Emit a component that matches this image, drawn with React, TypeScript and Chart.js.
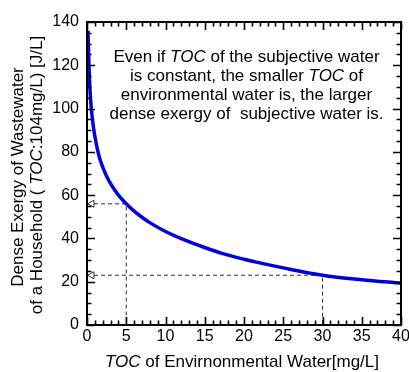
import React, { useEffect, useRef } from "react";
import { Chart, registerables } from "chart.js";

Chart.register(...registerables);

const toc = [0.12, 0.25, 0.4, 0.55, 0.8, 1, 1.5, 2, 2.5, 3, 4, 5, 6, 7, 8, 10, 12, 15, 17.3, 20, 22, 25, 30, 35, 40];
const exergy = [136, 120, 107.5, 100, 92, 87.2, 78.5, 73, 68.7, 65.3, 60, 56, 52.6, 49.8, 47.3, 43.2, 39.9, 35.8, 33, 30.4, 28.7, 26.4, 23, 20.9, 19.3];
const guideX = [5, 30];
const guideY = [56, 23];
const xTicks = { min: 0, max: 40, major: 5, minor: 1 };
const yTicks = { min: 0, max: 140, major: 20, minor: 5 };

type Seg = { t: string; i?: boolean };
const yTitle1: Seg[] = [{ t: "Dense Exergy of Wastewater" }];
const yTitle2: Seg[] = [{ t: "of a Household ( " }, { t: "TOC", i: true }, { t: ":104mg/L) [J/L]" }];
const xTitle: Seg[] = [{ t: "TOC", i: true }, { t: " of Envirnonmental Water[mg/L]" }];
const note: Seg[][] = [
  [{ t: "Even if " }, { t: "TOC", i: true }, { t: " of the subjective water" }],
  [{ t: "is constant, the smaller " }, { t: "TOC", i: true }, { t: " of" }],
  [{ t: "environmental water is, the larger" }],
  [{ t: "dense exergy of  subjective water is." }],
];

const FONT = "'Liberation Sans', Arial, sans-serif";

function drawSegs(ctx: CanvasRenderingContext2D, segs: Seg[], cx: number, cy: number, size: number) {
  const fonts = segs.map((s) => `${s.i ? "italic " : ""}${size}px ${FONT}`);
  let total = 0;
  const widths = segs.map((s, k) => {
    ctx.font = fonts[k];
    const w = ctx.measureText(s.t).width;
    total += w;
    return w;
  });
  let x = cx - total / 2;
  ctx.textBaseline = "middle";
  ctx.textAlign = "left";
  segs.forEach((s, k) => {
    ctx.font = fonts[k];
    ctx.fillText(s.t, x, cy);
    x += widths[k];
  });
}

const framePlugin = {
  id: "framePlugin",
  afterDatasetsDraw(chart: any) {
    const ctx: CanvasRenderingContext2D = chart.ctx;
    const xs = chart.scales.x;
    const ys = chart.scales.y;
    const { left, right, top, bottom } = chart.chartArea;
    ctx.save();
    // guide arrows
    ctx.strokeStyle = "#333";
    ctx.fillStyle = "#fff";
    ctx.lineWidth = 1;
    guideY.forEach((v) => {
      const px = xs.getPixelForValue(0);
      const py = ys.getPixelForValue(v);
      ctx.beginPath();
      ctx.moveTo(px + 0.5, py);
      ctx.lineTo(px + 7, py - 3.5);
      ctx.lineTo(px + 7, py + 3.5);
      ctx.closePath();
      ctx.fill();
      ctx.stroke();
    });
    // frame
    ctx.strokeStyle = "#000";
    ctx.lineWidth = 2;
    ctx.strokeRect(left, top, right - left, bottom - top);
    ctx.lineWidth = 1.6;
    ctx.beginPath();
    for (let v = xTicks.min; v <= xTicks.max + 1e-9; v += xTicks.minor) {
      const isMajor = Math.abs(v % xTicks.major) < 1e-9;
      const len = isMajor ? 8 : 4.5;
      const px = Math.round(xs.getPixelForValue(v)) + 0.5;
      ctx.moveTo(px, bottom);
      ctx.lineTo(px, bottom - len);
      ctx.moveTo(px, top);
      ctx.lineTo(px, top + len);
    }
    for (let v = yTicks.min; v <= yTicks.max + 1e-9; v += yTicks.minor) {
      const isMajor = Math.abs(v % yTicks.major) < 1e-9;
      const len = isMajor ? 8 : 4.5;
      const py = Math.round(ys.getPixelForValue(v)) + 0.5;
      ctx.moveTo(left, py);
      ctx.lineTo(left + len, py);
      ctx.moveTo(right, py);
      ctx.lineTo(right - len, py);
    }
    ctx.stroke();
    // tick labels
    ctx.fillStyle = "#000";
    ctx.font = `16px ${FONT}`;
    ctx.textBaseline = "middle";
    ctx.textAlign = "center";
    for (let v = xTicks.min; v <= xTicks.max + 1e-9; v += xTicks.major) {
      ctx.fillText(String(v), xs.getPixelForValue(v), bottom + 12);
    }
    ctx.textAlign = "right";
    for (let v = yTicks.min; v <= yTicks.max + 1e-9; v += yTicks.major) {
      ctx.fillText(String(v), left - 8, ys.getPixelForValue(v));
    }
    // texts
    note.forEach((line, k) => drawSegs(ctx, line, 246.5, 57 + k * 19.2, 17));
    drawSegs(ctx, xTitle, 242, 362, 17);
    ctx.save();
    ctx.translate(18, 177);
    ctx.rotate(-Math.PI / 2);
    drawSegs(ctx, yTitle1, 0, 0, 17);
    ctx.restore();
    ctx.save();
    ctx.translate(37, 175);
    ctx.rotate(-Math.PI / 2);
    drawSegs(ctx, yTitle2, 0, 0, 17);
    ctx.restore();
    ctx.restore();
  },
};

export default function App() {
  const ref = useRef<HTMLCanvasElement>(null);
  useEffect(() => {
    if (!ref.current) return;
    const guideSets = guideX.map((gx, k) => ({
      data: [
        { x: 0, y: guideY[k] },
        { x: gx, y: guideY[k] },
        { x: gx, y: 0 },
      ],
      borderColor: "#333",
      borderWidth: 1,
      borderDash: [4, 3],
      pointRadius: 0,
      fill: false,
    }));
    const chart = new Chart(ref.current, {
      type: "line",
      data: {
        datasets: [
          {
            data: toc.map((x, k) => ({ x, y: exergy[k] })),
            borderColor: "#0000dd",
            borderWidth: 3.5,
            pointRadius: 0,
            cubicInterpolationMode: "monotone",
            fill: false,
          },
          ...guideSets,
        ] as any,
      },
      options: {
        animation: false,
        responsive: false,
        layout: { padding: { top: 22, right: 8, left: 87, bottom: 47 } },
        plugins: { legend: { display: false }, tooltip: { enabled: false } },
        scales: {
          x: { type: "linear", display: false, min: xTicks.min, max: xTicks.max },
          y: { type: "linear", display: false, min: yTicks.min, max: yTicks.max },
        },
      },
      plugins: [framePlugin],
    });
    return () => chart.destroy();
  }, []);
  return (
    <div style={{ position: "fixed", left: 0, top: 0, width: 409, height: 372, background: "#fff" }}>
      <canvas ref={ref} width={409} height={372} />
    </div>
  );
}
